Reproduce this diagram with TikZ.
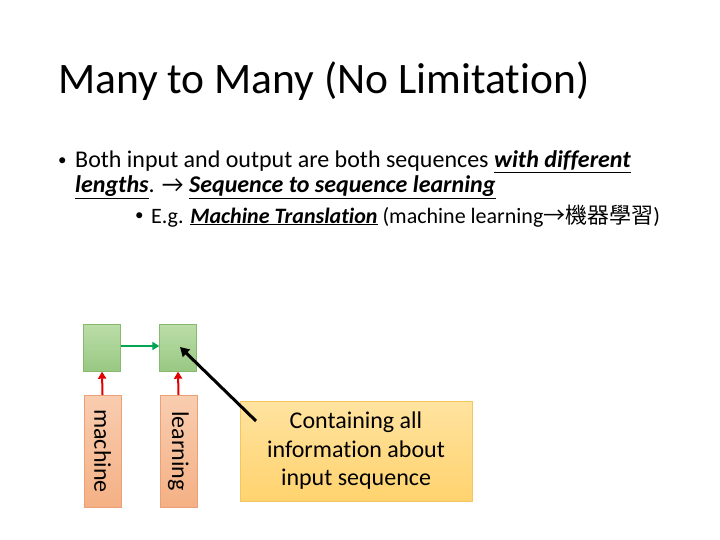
\documentclass[tikz,border=0pt]{standalone}
\usepackage{fontspec}
\setmainfont{Carlito}[Ligatures=NoCommon]
\newfontfamily\cjk{Noto Sans CJK TC}
\usetikzlibrary{arrows.meta}

\definecolor{hidtop}{HTML}{BBDDA8}
\definecolor{hidbot}{HTML}{98C882}
\definecolor{hidline}{HTML}{86B96E}
\definecolor{intop}{HTML}{F9CDB0}
\definecolor{inbot}{HTML}{F4B084}
\definecolor{inline}{HTML}{EBA077}
\definecolor{notetop}{HTML}{FFE3A0}
\definecolor{notebot}{HTML}{FFD36E}
\definecolor{noteline}{HTML}{F3C660}
\definecolor{feedred}{HTML}{E00000}
\definecolor{stepgreen}{HTML}{00A650}

\tikzset{
  hidbox/.style={draw=hidline, top color=hidtop, bottom color=hidbot,
    minimum width=37pt, minimum height=47pt, inner sep=0pt},
  wordbox/.style={draw=inline, top color=intop, bottom color=inbot,
    minimum width=37pt, minimum height=112pt, inner sep=0pt,
    font=\fontsize{24}{28}\selectfont},
  notebox/.style={draw=noteline, top color=notetop, bottom color=notebot,
    minimum width=232pt, minimum height=100pt, inner sep=0pt, align=center,
    font=\fontsize{24}{28.5}\selectfont},
  txt/.style={anchor=base west, inner sep=0pt, font=\fontsize{24}{28}\selectfont},
  subtxt/.style={txt, font=\fontsize{22}{26}\selectfont},
  dot/.style={anchor=base west, inner sep=0pt, font=\fontsize{17}{20}\selectfont},
}

\newcommand{\hilite}[1]{\underline{\textbf{\textit{#1}}}}

\begin{document}
\begin{tikzpicture}[x=1pt,y=-1pt]
\useasboundingbox (0,0) rectangle (720,540);

% title
\node[anchor=base west, inner sep=0pt, font=\fontsize{43.5}{52}\selectfont] (title) at (58,94) {Many to Many (No Limitation)};

% bullets
\node[dot] (dot1) at (58,166) {•};
\node[txt] (line1) at (75,168) {Both input and output are both sequences \hilite{with different}};
\node[txt] (line2) at (75,193) {\hilite{lengths}. → \hilite{Sequence to sequence learning}};
\node[dot] (dot2) at (135,221) {•};
\node[subtxt] (line3) at (151,223) {E.g. \hilite{Machine Translation} (machine learning{\cjk →機器學習})};

% encoder
\node[hidbox] (h1) at (102,348) {};
\node[hidbox] (h2) at (178,348) {};
\node[wordbox] (w1) at (102.5,451) {\rotatebox{-90}{machine}};
\node[wordbox] (w2) at (178.5,451) {\rotatebox{-90}{learning}};

\draw[feedred, line width=2pt, -{Triangle[length=7pt,width=8pt]}] (w1.north) -- (h1.south);
\draw[feedred, line width=2pt, -{Triangle[length=7pt,width=8pt]}] (w2.north) -- (h2.south);
\draw[stepgreen, line width=2.5pt, -{Triangle[length=7pt,width=8pt]}] (h1.east |- 0,346) -- (h2.west |- 0,346);

% summary note
\node[notebox] (note) at (356,451) {Containing all\\information about\\input sequence};
\coordinate (tail) at (256,421);
\draw[black, line width=3pt, -{Triangle[length=9pt,width=10pt]}] (tail) -- (180,347);

\end{tikzpicture}
\end{document}
